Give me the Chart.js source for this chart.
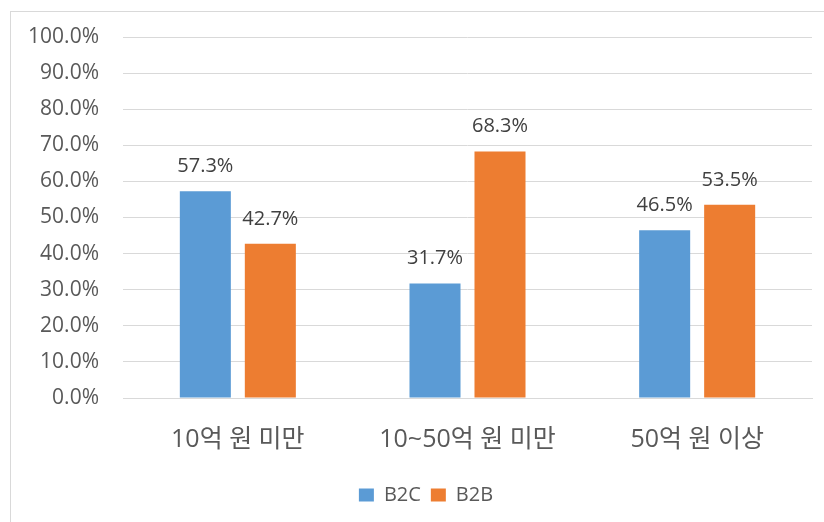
<!DOCTYPE html>
<html>
<head>
<meta charset="utf-8">
<script src="https://cdn.jsdelivr.net/npm/chart.js@4/dist/chart.umd.min.js"></script>
<style>
  html, body { margin: 0; padding: 0; background: #fff; }
  #wrap { position: relative; width: 824px; height: 522px; }
  #frame { position: absolute; left: 10px; top: 11px; right: -2px; bottom: -2px; border: 1px solid #d9d9d9; }
  canvas { position: absolute; left: 0; top: 0; }
</style>
</head>
<body>
<div id="wrap">
  <div id="frame"></div>
  <canvas id="myChart" width="824" height="522"></canvas>
</div>
<script>
const categories = ['10억 원 미만', '10~50억 원 미만', '50억 원 이상']
const b2c = [57.3, 31.7, 46.5]
const b2b = [42.7, 68.3, 53.5]
const seriesNames = ['B2C', 'B2B']

const fontFamily = "'Open Sans', 'Noto Sans CJK KR', sans-serif"

// draws the value above each bar
const valueLabels = {
  id: 'valueLabels',
  afterDatasetsDraw(chart) {
    const ctx = chart.ctx
    ctx.save()
    ctx.font = '20px ' + fontFamily
    ctx.fillStyle = '#404040'
    ctx.textAlign = 'center'
    ctx.textBaseline = 'middle'
    chart.data.datasets.forEach((ds, i) => {
      chart.getDatasetMeta(i).data.forEach((bar, j) => {
        ctx.fillText(ds.data[j].toFixed(1) + '%', bar.x, bar.y - 25)
      })
    })
    ctx.restore()
  }
}

// nudge the legend a little right and down
const legendShift = {
  id: 'legendShift',
  afterLayout(chart) {
    const lg = chart.legend
    lg.left += 20
    lg.right += 20
    lg.top += 3
    lg.bottom += 3
  }
}

const ctx = document.getElementById('myChart').getContext('2d')

const config = {
  type: 'bar',
  data: {
    labels: categories,
    datasets: [
      { label: seriesNames[0], data: b2c, backgroundColor: '#5B9BD5', categoryPercentage: 0.566, barPercentage: 0.785 },
      { label: seriesNames[1], data: b2b, backgroundColor: '#ED7D31', categoryPercentage: 0.566, barPercentage: 0.785 }
    ]
  },
  options: {
    responsive: false,
    animation: false,
    layout: { padding: { top: 37, right: 12, bottom: 10, left: 0 } },
    plugins: {
      tooltip: { enabled: false },
      legend: {
        position: 'bottom',
        labels: {
          font: { family: fontFamily, size: 20 },
          color: '#595959',
          boxWidth: 15,
          boxHeight: 13,
          padding: 10
        }
      }
    },
    scales: {
      x: {
        grid: { display: false, drawTicks: false },
        border: { display: true, color: '#d9d9d9', width: 1 },
        ticks: { font: { family: fontFamily, size: 25 }, color: '#595959', padding: 27 },
        afterFit(scale) { scale.height = 74 }
      },
      y: {
        min: 0,
        max: 100,
        ticks: {
          stepSize: 10,
          font: { family: fontFamily, size: 21 },
          color: '#595959',
          padding: 24,
          callback: v => v.toFixed(1) + '%'
        },
        grid: { color: '#d9d9d9', drawTicks: false },
        border: { display: false },
        afterFit(scale) { scale.width = 123 }
      }
    }
  },
  plugins: [valueLabels, legendShift]
}

const myChart = new Chart(ctx, config)
</script>
</body>
</html>
